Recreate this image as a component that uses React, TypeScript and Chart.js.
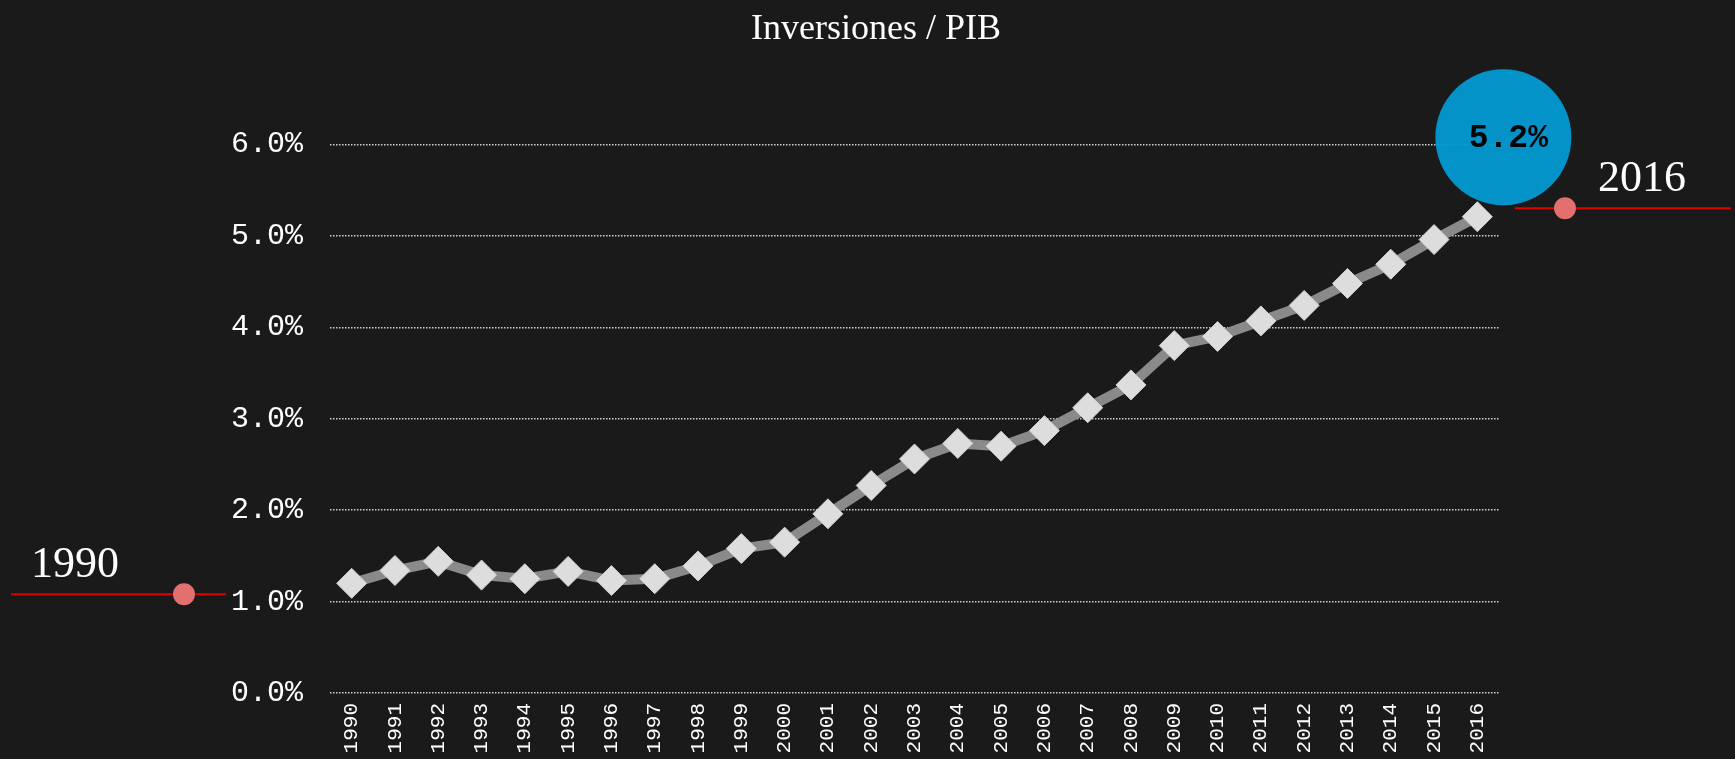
import React, { useEffect, useRef } from 'react';
import { Chart, registerables } from 'chart.js';

Chart.register(...registerables);

const chartTitle = 'Inversiones / PIB';
const years = [
  '1990', '1991', '1992', '1993', '1994', '1995', '1996', '1997', '1998', '1999',
  '2000', '2001', '2002', '2003', '2004', '2005', '2006', '2007', '2008', '2009',
  '2010', '2011', '2012', '2013', '2014', '2015', '2016',
];
const ratioPct = [
  1.20, 1.34, 1.44, 1.29, 1.25, 1.33, 1.23, 1.25, 1.39, 1.58,
  1.65, 1.96, 2.27, 2.56, 2.73, 2.70, 2.87, 3.12, 3.37, 3.80,
  3.90, 4.07, 4.24, 4.48, 4.69, 4.96, 5.21,
];
const yMin = 0;
const yMax = 6;
const yStep = 1;

const fmtPct = (v: number) => `${Number(v).toFixed(1)}%`;

const decorPlugin = {
  id: 'decor',
  beforeDraw(chart: any) {
    const { ctx, width, height } = chart;
    ctx.save();
    ctx.fillStyle = '#1a1a1a';
    ctx.fillRect(0, 0, width, height);
    ctx.restore();
  },
  afterDatasetsDraw(chart: any) {
    const { ctx, chartArea } = chart;
    const meta = chart.getDatasetMeta(0);
    const first = meta.data[0];
    const last = meta.data[meta.data.length - 1];
    ctx.save();

    const drawMarker = (x1: number, x2: number, dotX: number, y: number, label: string, textX: number) => {
      ctx.strokeStyle = '#e00000';
      ctx.lineWidth = 2;
      ctx.beginPath();
      ctx.moveTo(x1, y);
      ctx.lineTo(x2, y);
      ctx.stroke();
      ctx.fillStyle = '#e36f6f';
      ctx.beginPath();
      ctx.arc(dotX, y, 11, 0, Math.PI * 2);
      ctx.fill();
      ctx.fillStyle = '#ffffff';
      ctx.font = '44px "Liberation Serif", serif';
      ctx.textAlign = 'left';
      ctx.textBaseline = 'alphabetic';
      ctx.fillText(label, textX, y - 17);
    };

    const ly = first.y + 11;
    drawMarker(chartArea.left - 319, chartArea.left - 104, chartArea.left - 146, ly, years[0], chartArea.left - 299);

    const ry = last.y - 8.5;
    drawMarker(chartArea.right + 16, chartArea.right + 232, chartArea.right + 66, ry, years[years.length - 1], chartArea.right + 99);

    const cx = last.x + 26;
    const cy = last.y - 79.5;
    ctx.fillStyle = 'rgba(3,155,211,0.94)';
    ctx.beginPath();
    ctx.arc(cx, cy, 68, 0, Math.PI * 2);
    ctx.fill();
    ctx.fillStyle = '#050505';
    ctx.font = 'bold 33px "Liberation Mono", monospace';
    ctx.textAlign = 'center';
    ctx.textBaseline = 'middle';
    ctx.fillText(fmtPct(ratioPct[ratioPct.length - 1]), cx + 5, cy + 1);
    ctx.restore();
  },
};

export default function App() {
  const canvasRef = useRef<HTMLCanvasElement | null>(null);

  useEffect(() => {
    if (!canvasRef.current) return;
    const chart = new Chart(canvasRef.current, {
      type: 'line',
      data: {
        labels: years,
        datasets: [
          {
            data: ratioPct,
            borderColor: '#8a8a8a',
            borderWidth: 10,
            pointStyle: 'rectRot',
            pointRadius: 15,
            pointBackgroundColor: '#dddddd',
            pointBorderColor: '#cfcfcf',
            pointBorderWidth: 1,
            tension: 0,
            yAxisID: 'y',
          },
        ],
      },
      options: {
        animation: false,
        responsive: true,
        maintainAspectRatio: false,
        layout: { padding: { left: 17, right: 0, top: 0, bottom: 0 } },
        plugins: {
          legend: { display: false },
          tooltip: { enabled: false },
          title: {
            display: true,
            text: chartTitle,
            color: '#ffffff',
            font: { family: '"Liberation Serif", serif', size: 36, weight: 'normal', lineHeight: 1.2 },
            padding: { top: 7.5, bottom: 93.8 },
          },
        },
        scales: {
          x: {
            type: 'category',
            offset: true,
            grid: { display: false },
            border: { display: false },
            ticks: {
              color: '#ffffff',
              font: { family: '"Liberation Mono", monospace', size: 21 },
              minRotation: 90,
              maxRotation: 90,
              autoSkip: false,
              padding: 2,
            },
            afterFit: (s: any) => { s.height = 66; },
          },
          y: {
            position: 'left',
            min: yMin,
            max: yMax,
            grid: { color: 'rgba(255,255,255,0.8)', lineWidth: 1.5, drawTicks: false },
            border: { display: false, dash: [1.5, 1.5] },
            ticks: {
              stepSize: yStep,
              color: '#ffffff',
              font: { family: '"Liberation Mono", monospace', size: 30 },
              padding: 27,
              callback: (v: any) => fmtPct(v),
            },
            afterFit: (s: any) => { s.width = 313; },
          },
          yRight: {
            position: 'right',
            display: true,
            grid: { display: false },
            border: { display: false },
            ticks: { display: false },
            afterFit: (s: any) => { s.width = 236; },
          },
        },
      },
      plugins: [decorPlugin],
    } as any);
    return () => chart.destroy();
  }, []);

  return (
    <div style={{ position: 'fixed', left: 0, top: 0, width: 1735, height: 759 }}>
      <canvas ref={canvasRef} />
    </div>
  );
}
